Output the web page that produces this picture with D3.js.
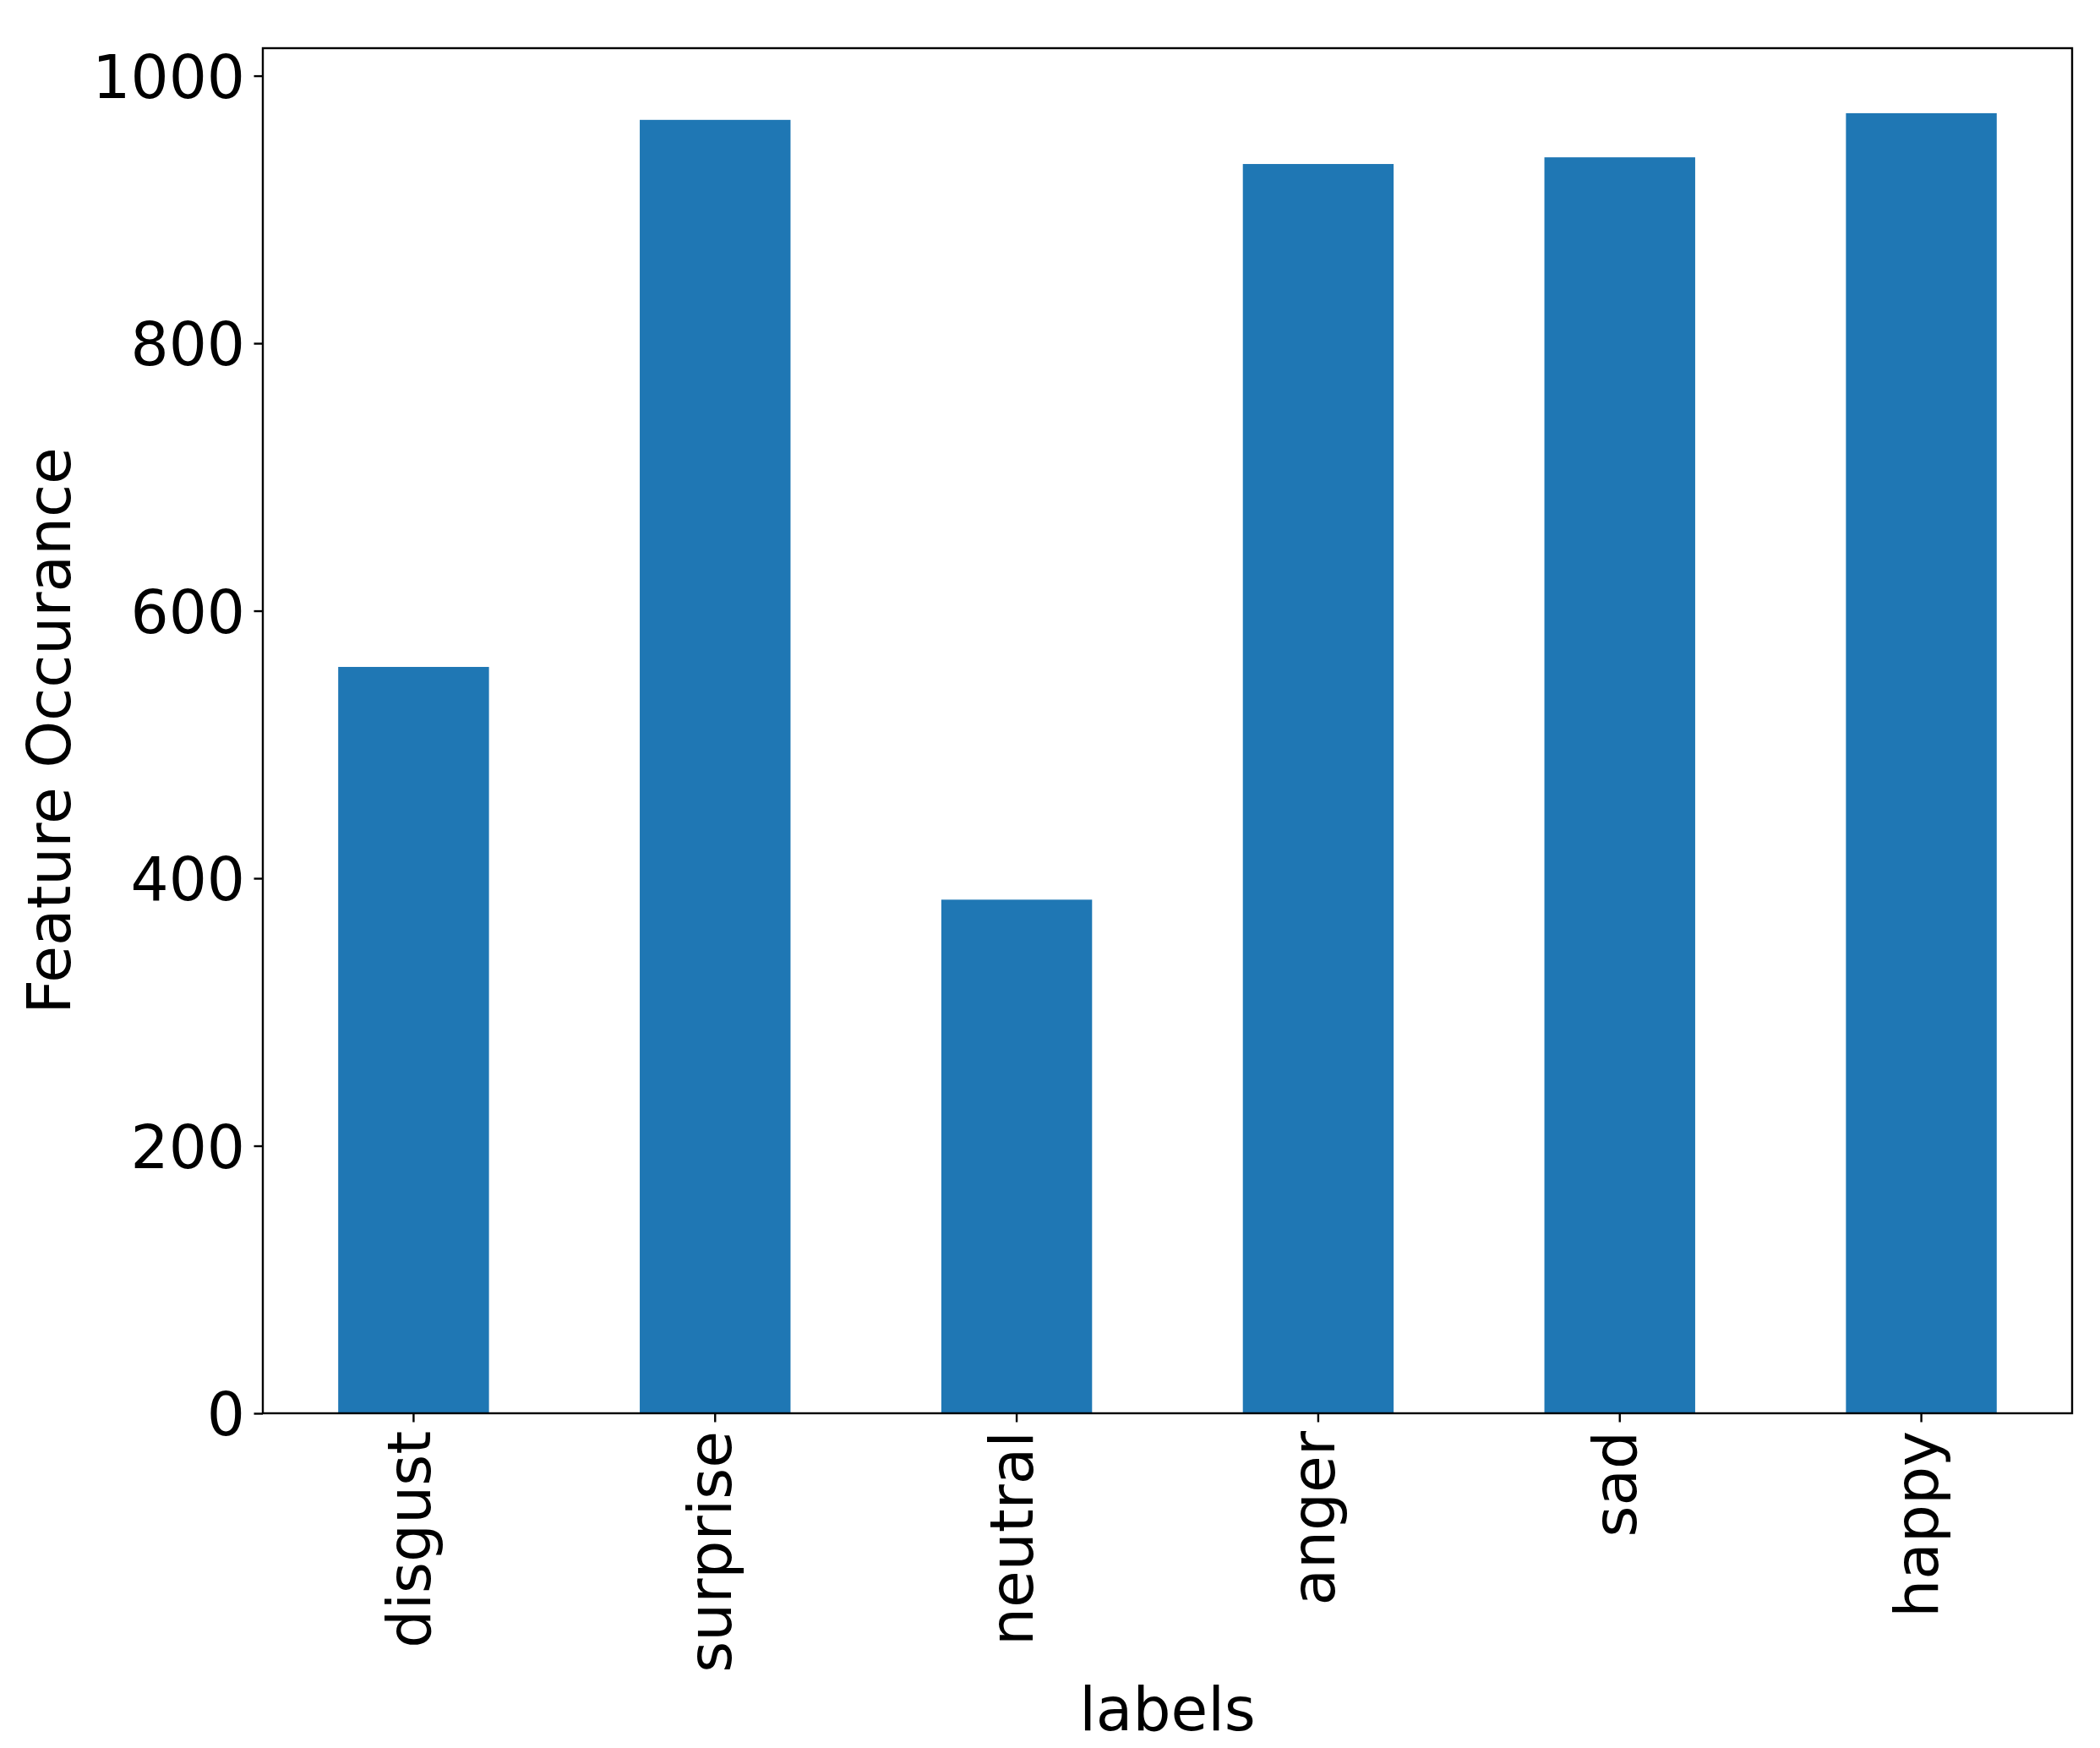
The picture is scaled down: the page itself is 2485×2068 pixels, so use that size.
<!DOCTYPE html>
<html>
<head>
<meta charset="utf-8">
<script src="https://cdn.jsdelivr.net/npm/d3@7"></script>
<style>
  html, body { margin: 0; padding: 0; background: #fff; }
  svg { display: block; font-family: "DejaVu Sans", sans-serif; }
</style>
</head>
<body>
<div id="chart"></div>
<script>
// values
const categories = ["disgust", "surprise", "neutral", "anger", "sad", "happy"]
const counts = [558, 967, 384, 934, 939, 972]
const yTicks = [0, 200, 400, 600, 800, 1000]

const width = 2485
const height = 2068
const margin = { top: 57, right: 33, bottom: 396, left: 311 }
const fontSize = 71
const tickLen = 10.5
const tickPad = 10.5

const svg = d3.select("#chart").append("svg")
    .attr("width", width)
    .attr("height", height)

const plotW = width - margin.left - margin.right
const plotH = height - margin.top - margin.bottom

// matplotlib pads the top by 5% of the tallest bar
const x = d3.scaleBand()
    .domain(categories)
    .range([margin.left, margin.left + plotW])
    .paddingInner(0.5)
    .paddingOuter(0.25)

const y = d3.scaleLinear()
    .domain([0, d3.max(counts) * 1.05])
    .range([margin.top + plotH, margin.top])

svg.append("g")
    .selectAll("rect")
    .data(categories)
    .enter()
    .append("rect")
    .attr("x", d => x(d))
    .attr("width", x.bandwidth())
    .attr("y", (d, i) => y(counts[i]))
    .attr("height", (d, i) => y(0) - y(counts[i]))
    .attr("fill", "#1f77b4")

const xAxis = svg.append("g")
    .attr("transform", "translate(0," + (margin.top + plotH) + ")")
    .call(d3.axisBottom(x).tickSize(tickLen).tickPadding(tickPad))
xAxis.select(".domain").remove()
xAxis.selectAll(".tick line").attr("stroke", "#000").attr("stroke-width", 2.4)
xAxis.selectAll(".tick text")
    .attr("font-size", fontSize)
    .attr("font-family", "DejaVu Sans")
    .attr("fill", "#000")
    .attr("text-anchor", "end")
    .attr("y", 0)
    .attr("dy", "0.27em")
    .attr("transform", "translate(0," + (tickLen + tickPad) + ") rotate(-90)")

const yAxis = svg.append("g")
    .attr("transform", "translate(" + margin.left + ",0)")
    .call(d3.axisLeft(y).tickValues(yTicks).tickFormat(d3.format("d"))
        .tickSize(tickLen).tickPadding(tickPad))
yAxis.select(".domain").remove()
yAxis.selectAll(".tick line").attr("stroke", "#000").attr("stroke-width", 2.4)
yAxis.selectAll(".tick text")
    .attr("font-size", fontSize)
    .attr("font-family", "DejaVu Sans")
    .attr("fill", "#000")
    .attr("dy", "0.36em")

// frame around the axes
svg.append("rect")
    .attr("x", margin.left)
    .attr("y", margin.top)
    .attr("width", plotW)
    .attr("height", plotH)
    .attr("fill", "none")
    .attr("stroke", "#000")
    .attr("stroke-width", 2.4)

svg.append("text")
    .attr("x", margin.left + plotW / 2)
    .attr("y", 2047)
    .attr("text-anchor", "middle")
    .attr("font-size", fontSize)
    .attr("fill", "#000")
    .text("labels")

svg.append("text")
    .attr("transform", "translate(83," + (margin.top + plotH / 2) + ") rotate(-90)")
    .attr("text-anchor", "middle")
    .attr("font-size", fontSize)
    .attr("fill", "#000")
    .text("Feature Occurance")
</script>
</body>
</html>
